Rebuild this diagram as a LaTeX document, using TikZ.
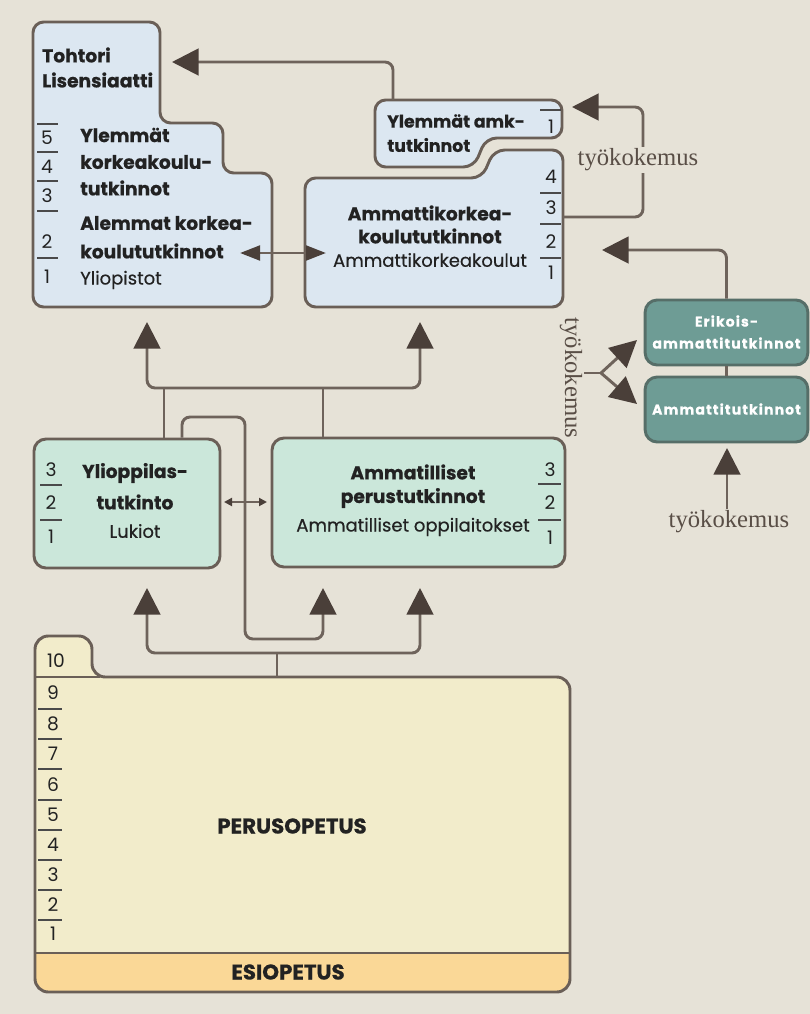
\documentclass[tikz,border=0pt]{standalone}
\usepackage{fontspec}
\setmainfont{Poppins}[BoldFeatures={FakeBold=0.6}]
\newfontfamily\serfont{Liberation Serif}
\usetikzlibrary{arrows.meta}
\definecolor{bg}{HTML}{E6E2D7}
\definecolor{outl}{HTML}{6A5F57}
\definecolor{lin}{HTML}{6E635B}
\definecolor{arrc}{HTML}{4A3F39}
\definecolor{uniblue}{HTML}{DCE7F1}
\definecolor{mint}{HTML}{CBE7DA}
\definecolor{perus}{HTML}{F2ECCB}
\definecolor{esi}{HTML}{FAD897}
\definecolor{tealf}{HTML}{6E9C95}
\definecolor{tealdark}{HTML}{566E68}
\definecolor{txt}{HTML}{222222}
\definecolor{sertxt}{HTML}{594E46}
\definecolor{sepc}{HTML}{4A4A4A}
\tikzset{
  box/.style={draw=outl, line width=2.2pt, rounded corners=8pt},
  nbox/.style={draw=outl, line width=2.2pt, rounded corners=9pt, fill=mint, inner sep=0pt},
  tbox/.style={draw=tealdark, line width=2.2pt, rounded corners=9pt, fill=tealf, inner sep=0pt,
     minimum width=122pt, minimum height=48.75pt},
  conn/.style={draw=lin, line width=2.2pt, rounded corners=6pt},
  bigarr/.style={-{Triangle[length=20pt,width=20pt,color=arrc]}},
  bigboth/.style={{Triangle[length=20pt,width=20pt,color=arrc]}-{Triangle[length=20pt,width=20pt,color=arrc]}},
  hd/.style={font=\fontsize{14}{15}\selectfont\bfseries, text=txt, inner sep=0pt},
  hds/.style={font=\fontsize{13}{14}\selectfont\bfseries, text=txt, inner sep=0pt},
  rg/.style={font=\fontsize{13.5}{15}\selectfont\addfontfeature{FakeBold=0.4}, text=txt, inner sep=0pt},
  num/.style={font=\fontsize{14}{15}\selectfont, text=txt, inner sep=0pt},
  sepl/.style={draw=sepc, line width=1.3pt},
  ser/.style={font=\serfont\fontsize{18.5}{20}\selectfont, text=sertxt, inner sep=1pt},
  wt/.style={font=\fontsize{10.5}{11}\selectfont\bfseries\addfontfeature{LetterSpace=8}, text=white, inner sep=0pt},
}
\begin{document}
\begin{tikzpicture}[x=0.75pt,y=-0.75pt]
\fill[bg] (0,0) rectangle (810,1014);
\useasboundingbox (0,0) rectangle (810,1014);

% ---------- University ----------
\draw[box, fill=uniblue] (33,307) -- (33,22) -- (160,22) -- (160,123) -- (223,123) -- (223,173) -- (272,173) -- (272,307) -- cycle;
\node[hd, anchor=west] (tohtori) at (42,55) {Tohtori};
\node[hd, anchor=west] (lisens) at (42,80) {Lisensiaatti};
\foreach \n/\yy in {5/138,4/167,3/196,2/242,1/277} \node[num] (un\n) at (47,\yy) {\n};
\foreach \yy in {124,152,181,211,258} \draw[sepl] (37,\yy) -- (58,\yy);
\node[hd, anchor=west] (u1) at (80,135) {Ylemmät};
\node[hd, anchor=west] (u2) at (80,162) {korkeakoulu-};
\node[hd, anchor=west] (u3) at (80,188) {tutkinnot};
\node[hd, anchor=west] (u4) at (80,223) {Alemmat korkea-};
\node[hd, anchor=west] (u5) at (80,251) {koulututkinnot};
\node[rg, anchor=west] (u6) at (80,280) {Yliopistot};

% ---------- Ylemmät amk ----------
\draw[box, fill=uniblue] (375,100) -- (562,100) -- (562,138) -- (486,138) -- (474,167) -- (375,167) -- cycle;
\node[hds, anchor=west] (ya1) at (387,121) {Ylemmät amk-};
\node[hds, anchor=west] (ya2) at (387,145) {tutkinnot};
\draw[sepl] (540,110) -- (561,110);
\node[num] (yan1) at (551,127) {1};

% ---------- AMK ----------
\draw[box, fill=uniblue] (305,307) -- (305,178) -- (482,178) -- (494,150) -- (563,150) -- (563,307) -- cycle;
\node[hd] (a1) at (430,213) {Ammattikorkea-};
\node[hd] (a2) at (430,236) {koulututkinnot};
\node[rg] (a3) at (430,260) {Ammattikorkeakoulut};
\foreach \n/\yy in {4/177,3/208,2/242,1/273} \node[num] (an\n) at (551,\yy) {\n};
\foreach \yy in {193,224,258} \draw[sepl] (540,\yy) -- (561,\yy);

% ---------- Lukio ----------
\node[nbox, minimum width=139.5pt, minimum height=96.75pt] (lukio) at (127,503.5) {};
\node[hd] (l1) at (135,473) {Ylioppilas-};
\node[hd] (l2) at (135,502) {tutkinto};
\node[rg] (l3) at (135,531) {Lukiot};
\foreach \n/\yy in {3/470,2/503,1/537} \node[num] (ln\n) at (51,\yy) {\n};
\foreach \yy in {485,520} \draw[sepl] (40,\yy) -- (62,\yy);

% ---------- Ammatilliset ----------
\node[nbox, minimum width=219.75pt, minimum height=96.75pt] (amm) at (418.5,502.5) {};
\node[hd] (m1) at (413,472) {Ammatilliset};
\node[hd] (m2) at (413,498) {perustutkinnot};
\node[rg] (m3) at (413,527) {Ammatilliset oppilaitokset};
\foreach \n/\yy in {3/470,2/503,1/538} \node[num] (mn\n) at (550,\yy) {\n};
\foreach \yy in {484,520} \draw[sepl] (538,\yy) -- (561,\yy);

% ---------- Teal boxes ----------
\node[tbox] (erik) at (726.5,332.5) {};
\node[wt] (e1) at (726.5,321) {Erikois-};
\node[wt] (e2) at (726.5,343) {ammattitutkinnot};
\node[tbox] (amt) at (726.5,409.5) {};
\node[wt] (e3) at (726.5,409) {Ammattitutkinnot};

% ---------- Perusopetus / Esiopetus ----------
\fill[perus, rounded corners=10pt] (35,992) -- (35,636) -- (92,636) -- (92,677) -- (570,677) -- (570,992) -- cycle;
\begin{scope}
\clip (0,953) rectangle (810,1014);
\fill[esi, rounded corners=10pt] (35,992) -- (35,636) -- (92,636) -- (92,677) -- (570,677) -- (570,992) -- cycle;
\end{scope}
\draw[box, rounded corners=10pt] (35,992) -- (35,636) -- (92,636) -- (92,677) -- (570,677) -- (570,992) -- cycle;
\draw[draw=outl, line width=2.2pt] (35,677) -- (100,677);
\draw[draw=outl, line width=2.2pt] (35,953) -- (570,953);
\node[num] (p10) at (56,661) {10};
\foreach \n/\yy in {9/693,8/724,7/754,6/785,5/815,4/845,3/875,2/905,1/934} \node[num] (pn\n) at (53,\yy) {\n};
\foreach \yy in {709,739,769,800,830,860,890,920} \draw[sepl] (38,\yy) -- (62,\yy);
\node[font=\fontsize{16}{18}\selectfont\bfseries, text=txt] (perusop) at (292,826) {PERUSOPETUS};
\node[font=\fontsize{16}{18}\selectfont\bfseries, text=txt] (esiop) at (288,972) {ESIOPETUS};

% ---------- Connectors ----------
\coordinate (tohtoriTip) at (172,62);
\draw[conn, bigarr] (393,100) -- (393,62) -- (tohtoriTip);
\draw[line width=2.2pt, draw=lin, {Triangle[length=15pt,width=11pt,color=arrc]}-{Triangle[length=15pt,width=11pt,color=arrc]}] (240,253) -- (326,253);

% työkokemus right
\coordinate (yamTip) at (572,107);
\draw[conn, bigarr] (563,217) -- (643,217) -- (643,107) -- (yamTip);
\node[ser, fill=bg] (tk1) at (638,160) {työkokemus};

\coordinate (amkTip) at (602,250);
\draw[conn, bigarr] (erik.north) -- (726.5,250) -- (amkTip);
\draw[conn] (erik.south) -- (amt.north);

\node[ser] (tk3) at (729,522) {työkokemus};
\coordinate (amtTip) at (727,448);
\draw[conn, bigarr] (tk3.north -| amtTip) -- (amtTip);

\node[ser, rotate=-90] (tk2) at (571,378) {työkokemus};
\coordinate (fk) at (601,373);
\coordinate (fkA) at (637,340);
\coordinate (fkB) at (637,404);
\draw[conn] (584,373) -- (fk);
\draw[conn, bigarr] (fk) -- (fkA);
\draw[conn, bigarr] (fk) -- (fkB);

% middle
\coordinate (uniTip) at (147,322);
\coordinate (amkTip2) at (420,322);
\draw[conn, bigboth] (uniTip) -- (147,388) -- (420,388) -- (amkTip2);
\draw[conn] (lukio.north -| 164,0) -- (164,388);
\draw[conn] (amm.north -| 323,0) -- (323,388);
\coordinate (ammTip1) at (323,588);
\draw[conn, bigarr] (lukio.north -| 182,0) -- (182,417) -- (245,417) -- (245,639) -- (323,639) -- (ammTip1);
\draw[line width=1.8pt, draw=lin, {Triangle[length=6pt,width=6pt,color=arrc]}-{Triangle[length=6pt,width=6pt,color=arrc]}] (224,502) -- (267,502);

\coordinate (lukTip) at (147,588);
\coordinate (ammTip2) at (420,588);
\draw[conn, bigboth] (lukTip) -- (147,653) -- (420,653) -- (ammTip2);
\draw[conn] (277,677) -- (277,653);
\end{tikzpicture}
\end{document}
